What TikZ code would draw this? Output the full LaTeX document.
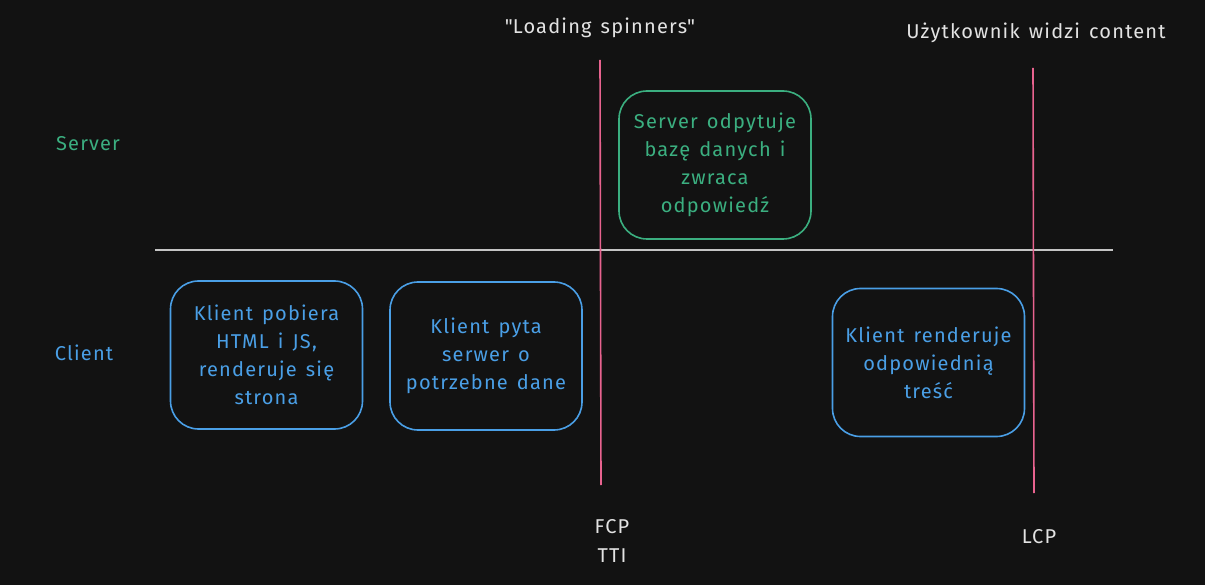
\documentclass[tikz,border=0pt]{standalone}
\usepackage{fontspec}
\setmainfont{Fira Sans}[LetterSpace=6,WordSpace=1.4]
\definecolor{bg}{HTML}{121212}
\definecolor{cblue}{HTML}{4A9FE6}
\definecolor{cgreen}{HTML}{3BAF80}
\definecolor{cpink}{HTML}{E8638F}
\definecolor{cwhite}{HTML}{E3E3E3}
\definecolor{cgray}{HTML}{C4C4C4}
\tikzset{
  box/.style={draw, line width=1.6pt, rounded corners=28pt, minimum width=192pt,
    minimum height=148pt, align=center, font=\fontsize{20}{28}\selectfont, inner sep=0pt},
  clientbox/.style={box, draw=cblue, text=cblue},
  serverbox/.style={box, draw=cgreen, text=cgreen},
  lbl/.style={text=cwhite, font=\fontsize{20}{29}\selectfont, align=center},
  marker/.style={cpink, line width=1.6pt}
}
\begin{document}
\begin{tikzpicture}[x=1pt,y=-1pt]
\fill[bg] (0,0) rectangle (1205,585);
\useasboundingbox (0,0) rectangle (1205,585);
%\draw[step=50pt,gray,very thin] (0,0) grid (1205,585); %background grid
\draw[cgray, line width=1.4pt] (155,250) -- (1113,250);
\draw[marker] (600,60) -- (601,485);
\draw[marker] (1033,68) -- (1034,493);
\node[lbl] (spinners) at (600,28) {\textquotedbl Loading spinners\textquotedbl};
\node[lbl] (content) at (1036,33) {Użytkownik widzi content};
\node[lbl] (fcp) at (612,541) {FCP\\TTI};
\node[lbl] (lcp) at (1039,537) {LCP};
\node[lbl, text=cgreen] (server) at (88,144) {Server};
\node[lbl, text=cblue] (client) at (84,353) {Client};
\node[clientbox] (pobiera) at (266.5,355) {Klient pobiera\\HTML i JS,\\renderuje się\\strona};
\node[clientbox] (pyta) at (486,356) {Klient pyta\\serwer o\\potrzebne dane};
\node[serverbox] (baza) at (715,165) {Server odpytuje\\bazę danych i\\zwraca\\odpowiedź};
\node[clientbox] (tresc) at (928.5,362.5) {Klient renderuje\\odpowiednią\\treść};
\end{tikzpicture}
\end{document}
